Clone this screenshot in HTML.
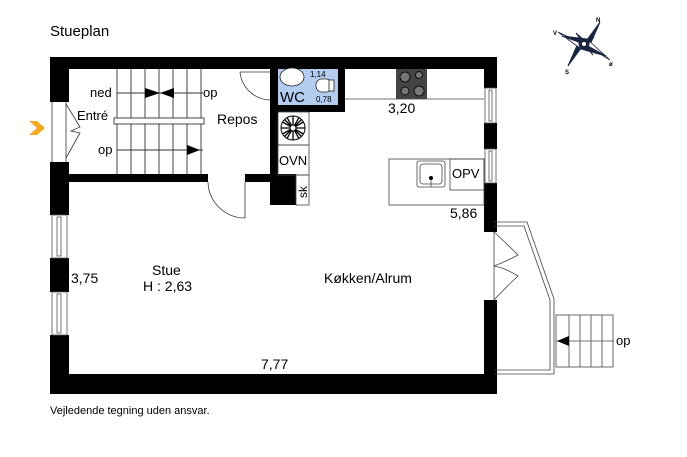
<!DOCTYPE html>
<html><head><meta charset="utf-8"><style>
body{margin:0;background:#fff;width:687px;height:457px;overflow:hidden}
svg{display:block}
text{font-family:"Liberation Sans",sans-serif;fill:#000}
</style></head><body>
<svg width="687" height="457" viewBox="0 0 687 457" xmlns="http://www.w3.org/2000/svg">
<text x="50" y="36" font-size="15">Stueplan</text>
<text x="50" y="414" font-size="11">Vejledende tegning uden ansvar.</text>
<!-- compass -->
<g stroke="#1a2540" fill="#1a2540">
<polygon points="584,44 600,22 589,47" /><polygon points="584,44 568,66 579,41"/>
<polygon points="584,44 558,32 581,49" fill="#fff" stroke-width="0.8"/><polygon points="584,44 610,60 587,39" fill="#fff" stroke-width="0.8"/>
<polygon points="584,44 562,36 587,39"/><polygon points="584,44 606,56 581,49"/>
<polygon points="584,44 576,33 586,42"/><polygon points="584,44 594,37 586,46"/><polygon points="584,44 574,52 582,46"/><polygon points="584,44 593,55 582,42"/>
<circle cx="584" cy="44" r="5" fill="#1a2540"/><circle cx="584" cy="44" r="2.5" fill="#fff"/>
</g>
<text x="596" y="22" font-size="6" font-weight="bold">N</text>
<text x="553" y="35" font-size="6" font-weight="bold">V</text>
<text x="565" y="74" font-size="6" font-weight="bold">S</text>
<text x="609" y="66" font-size="6" font-weight="bold">ø</text>

<rect x="278" y="69" width="60" height="36" fill="#b3ccef"/>
<g fill="#000">
<rect x="50" y="57" width="447" height="12"/>
<rect x="50" y="57" width="19" height="45"/>
<rect x="50" y="162" width="19" height="53"/>
<rect x="50" y="258" width="19" height="34"/>
<rect x="50" y="335" width="19" height="59"/>
<rect x="50" y="374" width="447" height="20"/>
<rect x="484" y="57" width="13" height="31"/>
<rect x="484" y="123" width="13" height="26"/>
<rect x="484" y="183" width="13" height="49"/>
<rect x="484" y="300" width="13" height="94"/>
<rect x="69" y="174" width="139" height="8"/>
<rect x="245" y="174" width="33" height="8"/>
<rect x="270" y="69" width="8" height="136"/>
<rect x="270" y="174" width="26" height="31"/>
<rect x="338" y="69" width="7" height="43"/>
<rect x="278" y="105" width="67" height="7"/>
</g>
<g fill="#fff" stroke="#555" stroke-width="0.8">
<rect x="52" y="215" width="15" height="43"/><rect x="57" y="217" width="4" height="39"/>
<rect x="52" y="292" width="15" height="43"/><rect x="57" y="294" width="4" height="39"/>
<rect x="485" y="88" width="11" height="35"/><rect x="489" y="90" width="3" height="31"/>
<rect x="485" y="149" width="11" height="34"/><rect x="489" y="151" width="3" height="30"/>
</g>
<g stroke="#333" stroke-width="0.9" fill="none">
<line x1="117" y1="69" x2="117" y2="174"/><line x1="131" y1="69" x2="131" y2="174"/>
<line x1="145" y1="69" x2="145" y2="174"/><line x1="159" y1="69" x2="159" y2="174"/>
<line x1="173" y1="69" x2="173" y2="174"/><line x1="187" y1="69" x2="187" y2="174"/>
<line x1="201" y1="69" x2="201" y2="174"/>
<line x1="117" y1="93" x2="203" y2="93"/><line x1="117" y1="150" x2="203" y2="150"/>
<rect x="114" y="118" width="90" height="6" fill="#fff"/>
</g>
<polygon points="145,88 145,98 160,93" fill="#000"/><polygon points="174,88 174,98 160,93" fill="#000"/>
<polygon points="187,145 187,155 200,150" fill="#000"/>
<text x="90" y="97" font-size="13">ned</text>
<text x="203" y="97" font-size="13">op</text>
<text x="77" y="120" font-size="13">Entré</text>
<text x="98" y="154" font-size="13">op</text>
<text x="217" y="124" font-size="14">Repos</text>
<g stroke="#333" stroke-width="0.8" fill="none">
<line x1="52" y1="102" x2="52" y2="162"/><line x1="66" y1="102" x2="66" y2="162"/>
<path d="M66,104 L80,127 L71,131 L80,133 L66,158"/>
</g>
<polygon points="29,121 37,121 45,128 37,135 29,135 37,128" fill="#f5a623"/>
<g stroke="#333" stroke-width="0.8" fill="none">
<line x1="240" y1="72" x2="270" y2="72"/><path d="M240,72 A31,31 0 0 0 270,100"/>
<line x1="245" y1="182" x2="245" y2="218"/><path d="M208,182 A37,37 0 0 0 245,218"/>
</g>
<g stroke="#222" stroke-width="0.8" fill="#fff">
<ellipse cx="292" cy="77" rx="12" ry="9"/>
<rect x="316" y="79" width="16" height="13" rx="6"/>
<rect x="329" y="80" width="5" height="11"/>
</g>
<text x="280" y="102" font-size="15">WC</text>
<text x="310" y="77" font-size="8">1,14</text>
<text x="316" y="102" font-size="8">0,78</text>
<g stroke="#444" stroke-width="0.8" fill="none">
<rect x="278" y="112" width="31" height="33"/><rect x="278" y="145" width="31" height="30"/>
<rect x="296" y="175" width="13" height="30"/>
<line x1="345" y1="99" x2="484" y2="99"/>
<rect x="389" y="159" width="95" height="46"/><rect x="450" y="159" width="34" height="31"/>
<rect x="417" y="161" width="28" height="26" rx="2"/><rect x="420" y="164" width="22" height="20" rx="3"/>
<line x1="431" y1="179" x2="431" y2="187"/>
</g>
<circle cx="431" cy="178" r="2" fill="#000"/>
<g stroke="#000">
<circle cx="293" cy="128" r="12" fill="#fff" stroke-width="1"/>
<path d="M281,128 H305 M293,116 V140 M284.5,119.5 L301.5,136.5 M301.5,119.5 L284.5,136.5 M287,117.6 L299,138.4 M299,117.6 L287,138.4 M282.6,122 L303.4,134 M303.4,122 L282.6,134" stroke-width="1.3"/>
<circle cx="293" cy="128" r="3" fill="#fff"/>
</g>
<text x="279" y="165" font-size="13">OVN</text>
<text x="307" y="198" font-size="12" transform="rotate(-90 307 198)">sk</text>
<rect x="396" y="69" width="31" height="30" fill="#444"/>
<g fill="#777" stroke="#111"><circle cx="405" cy="77" r="5"/><circle cx="419" cy="75" r="3.5"/><circle cx="405" cy="91" r="4"/><circle cx="419" cy="91" r="5"/></g>
<text x="452" y="178" font-size="13">OPV</text>
<text x="388" y="113" font-size="14">3,20</text>
<text x="450" y="218" font-size="14">5,86</text>
<text x="71" y="283" font-size="14">3,75</text>
<text x="152" y="275" font-size="14">Stue</text>
<text x="143" y="291" font-size="14">H : 2,63</text>
<text x="324" y="283" font-size="14">Køkken/Alrum</text>
<text x="261" y="369" font-size="14">7,77</text>
<g stroke="#444" stroke-width="0.8" fill="none">
<path d="M494,222 H527 L554,299 V374 H494"/>
<path d="M494,226 H524 L550,300 V370 H494"/>
<line x1="494" y1="232" x2="494" y2="300"/>
<path d="M494,232 Q508,245 518,255 Q505,262 494,266"/>
<path d="M494,300 Q508,285 518,276 Q505,268 494,266"/>
<rect x="556" y="315" width="57" height="52"/>
<line x1="569" y1="315" x2="569" y2="367"/><line x1="580" y1="315" x2="580" y2="367"/>
<line x1="591" y1="315" x2="591" y2="367"/><line x1="602" y1="315" x2="602" y2="367"/>
<line x1="556" y1="341" x2="614" y2="341"/>
</g>
<polygon points="557,341 569,336 569,346" fill="#000"/>
<text x="616" y="345" font-size="13">op</text>
</svg>
</body></html>
